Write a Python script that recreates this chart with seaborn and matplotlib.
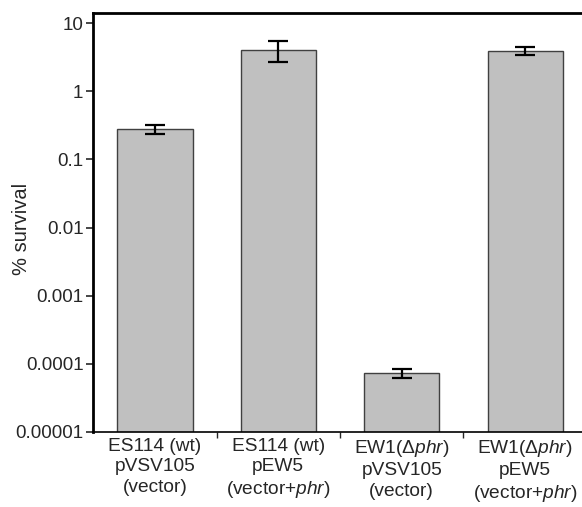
import matplotlib
matplotlib.use("Agg")
import matplotlib.pyplot as plt
import seaborn as sns
import numpy as np

# values (log scale, % survival)
strains = [
    "ES114 (wt)\npVSV105\n(vector)",
    "ES114 (wt)\npEW5\n(vector+$\\mathit{phr}$)",
    "EW1($\\Delta\\mathit{phr}$)\npVSV105\n(vector)",
    "EW1($\\Delta\\mathit{phr}$)\npEW5\n(vector+$\\mathit{phr}$)",
]
survival = [0.28, 4.1, 7.3e-5, 3.95]
survival_err = [0.045, 1.45, 1.2e-5, 0.55]
ytick_vals = [1e-5, 1e-4, 1e-3, 1e-2, 1e-1, 1, 10]
ytick_labels = ["0.00001", "0.0001", "0.001", "0.01", "0.1", "1", "10"]

sns.set_style("white")
plt.rcParams['font.family'] = ['Liberation Sans', 'DejaVu Sans']
plt.rcParams['mathtext.fontset'] = 'custom'
plt.rcParams['mathtext.rm'] = 'Liberation Sans'
plt.rcParams['mathtext.it'] = 'Liberation Sans:italic'

fig = plt.figure(figsize=(5.82, 5.07), dpi=100)
ax = fig.add_axes([0.160, 0.148, 0.840, 0.826])

sns.barplot(x=list(range(len(strains))), y=survival, color="#c0c0c0",
            edgecolor="#404040", linewidth=1.0, width=0.61, saturation=1, ax=ax)
ax.errorbar(range(len(strains)), survival, yerr=survival_err, fmt="none",
            ecolor="black", elinewidth=1.6, capsize=7, capthick=1.6)

ax.set_yscale("log")
ax.set_ylim(1e-5, 14)
ax.set_xlim(-0.5, 3.46)
ax.set_yticks(ytick_vals)
ax.set_yticklabels(ytick_labels, fontsize=13.5)
ax.yaxis.set_minor_locator(matplotlib.ticker.NullLocator())
ax.set_xticks(range(len(strains)))
ax.set_xticklabels(strains, fontsize=13.8, linespacing=1.27)
ax.set_xticks([0.5, 1.5, 2.5], minor=True)
ax.tick_params(axis="x", which="major", length=0, pad=4)
ax.tick_params(axis="x", which="minor", length=4, width=1, direction="out", bottom=True)
ax.tick_params(axis="y", which="major", length=5, width=1.2, direction="out", left=True, pad=2)
ax.set_ylabel("% survival", fontsize=14.5)
ax.yaxis.set_label_coords(-0.128, 0.485)

for side in ["top", "left"]:
    ax.spines[side].set_linewidth(2)
    ax.spines[side].set_color("black")
ax.spines["bottom"].set_linewidth(1.2)
ax.spines["bottom"].set_color("black")
ax.spines["right"].set_visible(False)

plt.savefig("out.png", dpi=100)
